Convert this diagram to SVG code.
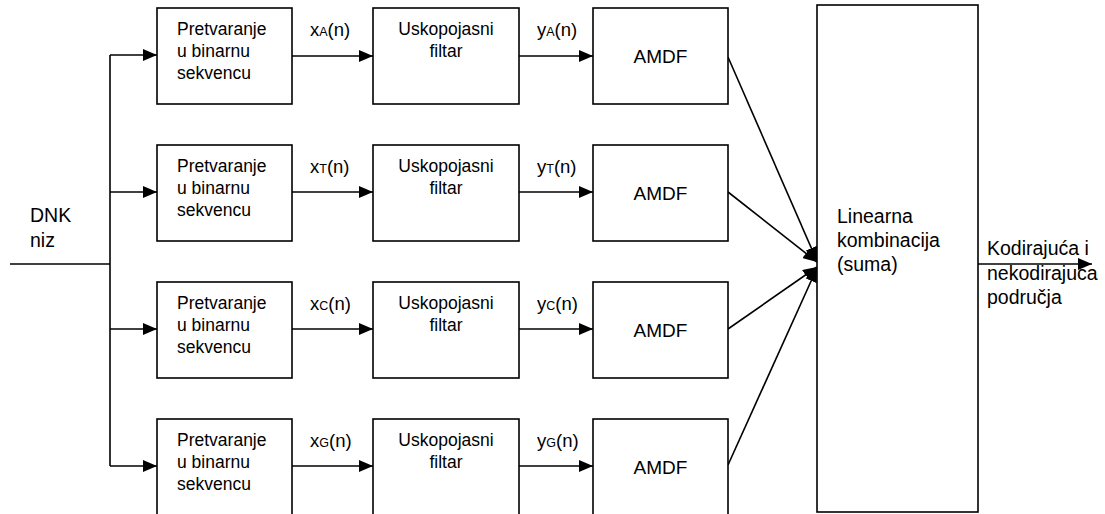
<svg xmlns="http://www.w3.org/2000/svg" width="1105" height="514" viewBox="0 0 1105 514">
<style>
.box{fill:#fff;stroke:#000;stroke-width:1.6}
.ln{fill:none;stroke:#000;stroke-width:1.6}
.t{font-family:"Liberation Sans",Arial,sans-serif;fill:#000}
.bt{font-size:17.5px}
.lb{font-size:18.5px}
.sb{font-size:12.5px}
.am{font-size:19px}
.big{font-size:19.5px}
</style>
<defs>
<marker id="ah" markerUnits="userSpaceOnUse" markerWidth="15" markerHeight="12" refX="14" refY="6" orient="auto">
<path d="M0,0 L14,6 L0,12 z" fill="#000"/>
</marker>
</defs>
<rect width="1105" height="514" fill="#fff"/>
<g id="connectors">
<path class="ln" d="M10,264 H110"/>
<path class="ln" d="M110,55 V466"/>
<path class="ln" d="M110,55 H157" marker-end="url(#ah)"/>
<path class="ln" d="M110,192 H157" marker-end="url(#ah)"/>
<path class="ln" d="M110,329 H157" marker-end="url(#ah)"/>
<path class="ln" d="M110,466 H157" marker-end="url(#ah)"/>
<path class="ln" d="M292,56 H373" marker-end="url(#ah)"/>
<path class="ln" d="M292,192 H373" marker-end="url(#ah)"/>
<path class="ln" d="M292,329 H373" marker-end="url(#ah)"/>
<path class="ln" d="M292,466 H373" marker-end="url(#ah)"/>
<path class="ln" d="M519,56 H593" marker-end="url(#ah)"/>
<path class="ln" d="M519,192 H593" marker-end="url(#ah)"/>
<path class="ln" d="M519,329 H593" marker-end="url(#ah)"/>
<path class="ln" d="M519,466 H593" marker-end="url(#ah)"/>
<path class="ln" d="M728,57 L817,261" marker-end="url(#ah)"/>
<path class="ln" d="M728,192 L817,262" marker-end="url(#ah)"/>
<path class="ln" d="M728,329 L817,267" marker-end="url(#ah)"/>
<path class="ln" d="M728,465 L817,268" marker-end="url(#ah)"/>
<path class="ln" d="M978,264 H1092" marker-end="url(#ah)"/>
</g>
<g id="input-label">
<text class="t big" x="30" y="222">DNK</text>
<text class="t big" x="30" y="247">niz</text>
</g>
<g id="conv-A">
<rect class="box" x="157" y="8" width="135" height="96"/>
<text class="t bt" x="177" y="35">Pretvaranje</text>
<text class="t bt" x="177" y="57">u binarnu</text>
<text class="t bt" x="177" y="79">sekvencu</text>
</g>
<g id="conv-T">
<rect class="box" x="157" y="145" width="135" height="96"/>
<text class="t bt" x="177" y="172">Pretvaranje</text>
<text class="t bt" x="177" y="194">u binarnu</text>
<text class="t bt" x="177" y="216">sekvencu</text>
</g>
<g id="conv-C">
<rect class="box" x="157" y="282" width="135" height="96"/>
<text class="t bt" x="177" y="309">Pretvaranje</text>
<text class="t bt" x="177" y="331">u binarnu</text>
<text class="t bt" x="177" y="353">sekvencu</text>
</g>
<g id="conv-G">
<rect class="box" x="157" y="419" width="135" height="96"/>
<text class="t bt" x="177" y="446">Pretvaranje</text>
<text class="t bt" x="177" y="468">u binarnu</text>
<text class="t bt" x="177" y="490">sekvencu</text>
</g>
<g id="labels-x">
<text class="t lb" x="310" y="36">x<tspan class="sb">A</tspan>(n)</text>
<text class="t lb" x="310" y="173">x<tspan class="sb">T</tspan>(n)</text>
<text class="t lb" x="310" y="310">x<tspan class="sb">C</tspan>(n)</text>
<text class="t lb" x="310" y="447">x<tspan class="sb">G</tspan>(n)</text>
</g>
<g id="filter-A">
<rect class="box" x="373" y="8" width="146" height="96"/>
<text class="t bt" x="446" y="35" text-anchor="middle">Uskopojasni</text>
<text class="t bt" x="446" y="57" text-anchor="middle">filtar</text>
</g>
<g id="filter-T">
<rect class="box" x="373" y="145" width="146" height="96"/>
<text class="t bt" x="446" y="172" text-anchor="middle">Uskopojasni</text>
<text class="t bt" x="446" y="194" text-anchor="middle">filtar</text>
</g>
<g id="filter-C">
<rect class="box" x="373" y="282" width="146" height="96"/>
<text class="t bt" x="446" y="309" text-anchor="middle">Uskopojasni</text>
<text class="t bt" x="446" y="331" text-anchor="middle">filtar</text>
</g>
<g id="filter-G">
<rect class="box" x="373" y="419" width="146" height="96"/>
<text class="t bt" x="446" y="446" text-anchor="middle">Uskopojasni</text>
<text class="t bt" x="446" y="468" text-anchor="middle">filtar</text>
</g>
<g id="labels-y">
<text class="t lb" x="537" y="36">y<tspan class="sb">A</tspan>(n)</text>
<text class="t lb" x="537" y="173">y<tspan class="sb">T</tspan>(n)</text>
<text class="t lb" x="537" y="310">y<tspan class="sb">C</tspan>(n)</text>
<text class="t lb" x="537" y="447">y<tspan class="sb">G</tspan>(n)</text>
</g>
<g id="amdf-A">
<rect class="box" x="593" y="8" width="135" height="96"/>
<text class="t am" x="660.5" y="63" text-anchor="middle">AMDF</text>
</g>
<g id="amdf-T">
<rect class="box" x="593" y="145" width="135" height="96"/>
<text class="t am" x="660.5" y="200" text-anchor="middle">AMDF</text>
</g>
<g id="amdf-C">
<rect class="box" x="593" y="282" width="135" height="96"/>
<text class="t am" x="660.5" y="337" text-anchor="middle">AMDF</text>
</g>
<g id="amdf-G">
<rect class="box" x="593" y="419" width="135" height="96"/>
<text class="t am" x="660.5" y="474" text-anchor="middle">AMDF</text>
</g>
<g id="sum">
<rect class="box" x="817" y="5" width="161" height="507"/>
<text class="t big" x="837" y="223">Linearna</text>
<text class="t big" x="837" y="247">kombinacija</text>
<text class="t big" x="837" y="271">(suma)</text>
</g>
<g id="output-label">
<text class="t big" x="987" y="255">Kodirajuća i</text>
<text class="t big" x="987" y="280">nekodirajuća</text>
<text class="t big" x="987" y="304">područja</text>
</g>
</svg>
